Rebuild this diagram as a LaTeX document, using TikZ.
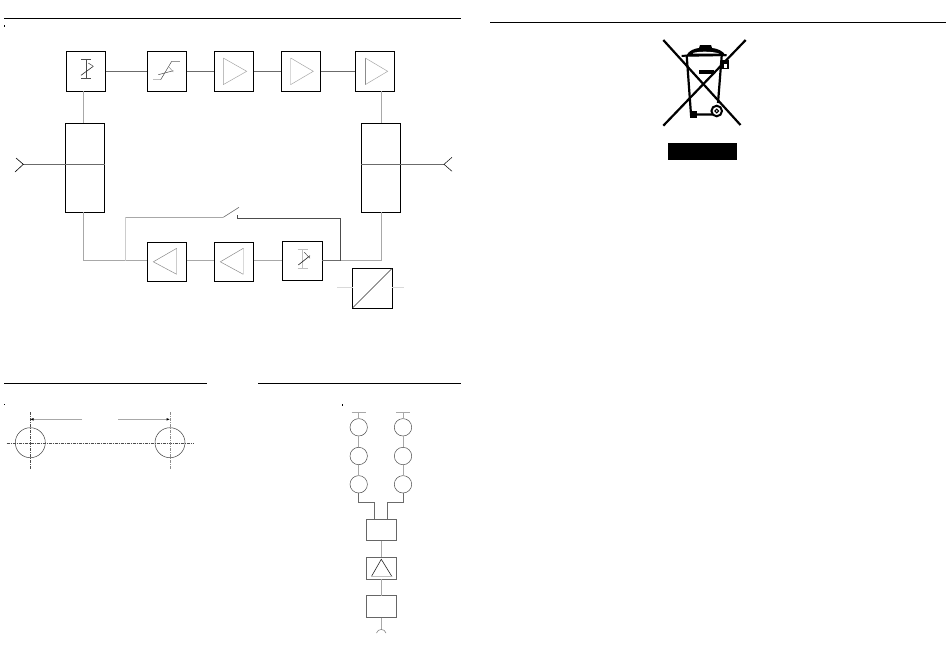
\documentclass[tikz,border=0pt]{standalone}
\definecolor{wire}{gray}{0.42}
\definecolor{lite}{gray}{0.66}
\tikzset{
  x=1pt,y=-1pt,
  blockbox/.style={draw=black,line width=0.75pt,fill=white,minimum width=39.4pt,minimum height=39.5pt,inner sep=0pt,outer sep=0pt},
  tallbox/.style={blockbox,minimum height=88.7pt},
  smallbox/.style={draw=black!60,line width=0.85pt,fill=white,minimum width=29.3pt,minimum height=21.7pt,inner sep=0pt,outer sep=0pt},
  roundel/.style={circle,draw=black!70,line width=0.5pt,fill=white,minimum size=17.4pt,inner sep=0pt,outer sep=0pt},
  bore/.style={circle,draw=black!75,line width=0.5pt,minimum size=30pt,inner sep=0pt,outer sep=0pt},
  wireline/.style={draw=wire,line width=0.7pt},
  liteline/.style={draw=lite,line width=0.8pt},
  rule/.style={draw=black,line width=0.7pt},
  tri/.style={draw=lite,line width=0.5pt},
  sym/.style={draw=black!70,line width=0.5pt},
  centre/.style={draw=black!70,line width=0.4pt,dash pattern=on 3pt off 1pt on 1pt off 1pt},
  speck/.style={fill=black,inner sep=0pt,minimum size=1.4pt,outer sep=0pt},
  binline/.style={draw=black,line width=2.2pt}
}
\begin{document}
\begin{tikzpicture}
\useasboundingbox (0,0) rectangle (950,654);
\fill[white] (0,0) rectangle (950,654);
% rules
\coordinate (r1a) at (4,18.3); \coordinate (r1b) at (461,18.3);
\coordinate (r2a) at (490,22.4); \coordinate (r2b) at (946,22.4);
\coordinate (r3a) at (4,383.4); \coordinate (r3b) at (206.7,383.4);
\coordinate (r4a) at (258,383.4); \coordinate (r4b) at (461,383.4);
\draw[rule] (r1a)--(r1b); \draw[rule] (r2a)--(r2b); \draw[rule] (r3a)--(r3b); \draw[rule] (r4a)--(r4b);
\node[speck] (d1) at (4.5,26) {};
\node[speck] (d2) at (4.5,404.5) {};
\node[speck] (d3) at (342.4,405) {};
% nodes of the loop
\coordinate (inL) at (23.3,164.3); \coordinate (outR) at (444,164.3);
\coordinate (jL) at (83.3,260.7); \coordinate (jR) at (381.7,260.7);
\coordinate (jS) at (125.7,260.7); \coordinate (jT) at (340.3,260.7);
\coordinate (swA) at (125.7,217.3); \coordinate (swB) at (223.3,217.3); \coordinate (swC) at (239,207.3);
\coordinate (swD) at (237.3,215); \coordinate (swE) at (237.3,218.3); \coordinate (swF) at (340.3,218.3);
\coordinate (stL) at (337.3,287.7); \coordinate (stR) at (404,287.7);
\node[blockbox] (a1) at (86,71.3) {};
\node[blockbox] (a2) at (167,71.3) {};
\node[blockbox] (a3) at (234,71.3) {};
\node[blockbox] (a4) at (301,71.3) {};
\node[blockbox] (a5) at (375,71.3) {};
\node[tallbox] (tl) at (85,167.7) {};
\node[tallbox] (tr) at (381,167.7) {};
\node[blockbox] (b1) at (167,261.8) {};
\node[blockbox] (b2) at (234,261.8) {};
\node[blockbox,minimum width=40pt] (b3) at (302.3,260.8) {};
\node[blockbox] (c1) at (372.2,288.3) {};
\draw[wireline] (a1.east)--(a2.west);
\draw[wireline] (a2.east)--(a3.west);
\draw[wireline] (a3.east)--(a4.west);
\draw[wireline] (a4.east)--(a5.west);
\draw[liteline] (a1.south -| jL)--(tl.north -| jL);
\draw[liteline,line width=1pt] (a5.south -| tr.north)--(tr.north);
\draw[wireline] (inL)--(tl.east |- inL);
\draw[wireline] (tr.west |- outR)--(outR);
\draw[draw=black,line width=0.6pt] (16,158)--(inL)--(15,172);
\draw[draw=black,line width=0.5pt] (452,157.3)--(outR)--(452,171.3);
% lower path
\draw[liteline] (tl.south -| jL)--(jL)--(b1.west |- jL);
\draw[liteline] (b1.east |- jL)--(b2.west |- jL);
\draw[liteline] (b2.east |- jL)--(b3.west |- jL);
\draw[wireline] (b3.east |- jL)--(jT);
\draw[liteline] (jT)--(jR)--(tr.south -| jR);
\draw[draw=black!20,line width=1pt] (jS)--(swA);
\draw[liteline,line width=0.6pt] (swA)--(swB);
\draw[wireline,line width=0.6pt] (swB)--(swC);
\draw[draw=black!70,line width=0.7pt] (swD)--(swE)--(swF)--(jT);
\draw[draw=black!15,line width=1pt] (stL)--(c1.west |- stL);
\draw[draw=black!15,line width=1pt] (c1.east |- stR)--(stR);
\draw[draw=black!80,line width=0.5pt] (c1.south west)--(c1.north east);
% triangles pointing right
\begin{scope}[shift={(a3.center)}]
  \draw[draw=black!25,line width=0.5pt] (-10.7,-13.3)--(-10.7,13.3);
  \draw[tri] (-10.7,-13.3)--(12.7,0)--(-10.7,13.3);
\end{scope}
\begin{scope}[shift={(a4.center)}]
  \draw[draw=black!15,line width=0.6pt] (-10.3,-13.3)--(-10.3,13.3);
  \draw[tri] (-10.3,-13.3)--(12.3,0)--(-10.3,13.3);
\end{scope}
\begin{scope}[shift={(a5.center)}]
  \draw[draw=black!45,line width=0.5pt] (-9.7,-13.3)--(-9.7,13.3);
  \draw[tri] (-9.7,-13.3)--(12.7,0)--(-9.7,13.3);
\end{scope}
% triangles pointing left
\begin{scope}[shift={(b1.center)}]
  \draw[draw=black!20,line width=0.8pt] (9.7,-13.5)--(9.7,12.5);
  \draw[draw=black!45,line width=0.5pt] (9.7,-13.5)--(-13.7,0)--(9.7,12.5);
\end{scope}
\begin{scope}[shift={(b2.center)}]
  \draw[draw=black!15,line width=0.9pt] (9.3,-13.5)--(9.3,12.5);
  \draw[draw=black!45,line width=0.5pt] (9.3,-13.5)--(-13.7,0)--(9.3,12.5);
\end{scope}
% attenuator symbols
\begin{scope}[shift={(a1.center)}]
  \draw[sym] (-5,-11.6)--(5,-11.6);
  \draw[sym] (-5,7)--(5,7);
  \draw[sym] (0,-11.6)--(0,7);
  \draw[draw=black!85,line width=0.6pt] (-5,4)--(7.3,-5);
  \draw[sym] (2.3,-8.3)--(7.3,-5);
\end{scope}
\begin{scope}[shift={(b3.center)}]
  \draw[draw=black!25,line width=0.8pt] (-4.6,-11.5)--(5.4,-11.5);
  \draw[draw=black!25,line width=0.8pt] (-4.6,7.5)--(5.4,7.5);
  \draw[draw=black!25,line width=0.8pt] (0.4,-11.5)--(0.4,7.5);
  \draw[draw=black!90,line width=0.6pt] (-4,4.2)--(7.7,-5.1);
  \draw[sym] (2,-8.5)--(7.7,-2.5);
\end{scope}
% limiter symbol
\begin{scope}[shift={(a2.center)}]
  \draw[draw=black!25,line width=1pt] (-13.7,8.4)--(-6.3,8.4);
  \draw[sym] (-6.3,8.4)--(4.7,-10);
  \draw[draw=black!40,line width=0.5pt] (4.7,-10)--(13,-10);
  \draw[sym] (-8.7,3.4)--(6.3,-0.6);
  \draw[draw=black!50,line width=0.4pt] (2.3,-4)--(6.3,0.7);
\end{scope}
% dimension drawing
\node[bore] (h1) at (30.3,442.7) {};
\node[bore] (h2) at (170,442.7) {};
\coordinate (cl) at (6.7,442.7); \coordinate (cr) at (194,442.7);
\draw[centre] (cl)--(cr);
\begin{scope}[shift={(h1.center)}]
  \draw[centre] (0,-30.7)--(0,27.3);
\end{scope}
\begin{scope}[shift={(h2.center)}]
  \draw[centre,draw=black!45] (0,-30.7)--(0,27.3);
\end{scope}
\coordinate (m1) at (82,419.3); \coordinate (m2) at (118,419.3);
\coordinate (e1) at (31,419.3); \coordinate (e2) at (169,419.3);
\draw[liteline] (m1)--(e1);
\draw[liteline] (m2)--(e2);
\fill[black] (30.5,419.3)--(33.5,418)--(33.5,420.6)--cycle;
\fill[black] (169.5,419.3)--(166.5,418)--(166.5,420.6)--cycle;
% block tree
\node[smallbox] (s1) at (381.3,529.9) {};
\node[smallbox] (s2) at (381.3,568.2) {};
\node[smallbox] (s3) at (381.3,606.7) {};
\node[roundel] (o1) at (358.7,427.3) {};
\node[roundel] (o2) at (358.7,456) {};
\node[roundel] (o3) at (358.7,484.3) {};
\node[roundel] (p1) at (403,427.3) {};
\node[roundel] (p2) at (403,456) {};
\node[roundel] (p3) at (403,484.3) {};
\coordinate (to) at (358.7,412); \coordinate (tp) at (403,412);
\coordinate (toa) at (351.7,412); \coordinate (tob) at (365.7,412);
\coordinate (tpa) at (396,412); \coordinate (tpb) at (410,412);
\draw[liteline] (to)--(o1.north); \draw[liteline] (toa)--(tob);
\draw[liteline] (tp)--(p1.north); \draw[liteline] (tpa)--(tpb);
\draw[liteline] (o1.south)--(o2.north);
\draw[liteline] (o2.south)--(o3.north);
\draw[liteline] (p1.south)--(p2.north);
\draw[liteline] (p2.south)--(p3.north);
\coordinate (ko) at (358.7,502.3); \coordinate (kp) at (403,502.3);
\coordinate (kl) at (374.3,502.3); \coordinate (kr) at (387.3,502.3);
\draw[wireline] (o3.south)--(ko)--(kl)--(kl |- s1.north);
\draw[wireline] (p3.south)--(kp)--(kr)--(kr |- s1.north);
\draw[liteline] (s1.south)--(s2.north);
\draw[liteline] (s2.south)--(s3.north);
\coordinate (tipT) at (381.3,629.5);
\draw[liteline] (s3.south)--(tipT);
\draw[draw=black!55,line width=0.5pt] (376.5,633) .. controls (377.5,630.5) and (379,629.5) .. (tipT) .. controls (383.6,629.5) and (385,630.5) .. (386,633);
\begin{scope}[shift={(s2.center)}]
  \draw[draw=black!85,line width=0.6pt] (-10,8.5)--(0,-8.9)--(10.7,8.5);
  \draw[draw=black!25,line width=0.8pt] (-10,8.5)--(10.7,8.5);
\end{scope}
% WEEE bin
\draw[binline] (663.3,40)--(740.5,125);
\draw[binline] (745.7,40)--(663.3,125.7);
\fill[black] (686,56) .. controls (689,50) and (695,48.5) .. (699,48) -- (700,45) -- (711,45) -- (712,48) .. controls (717,48.5) and (723,50.5) .. (726,56) -- cycle;
\fill[white] (693,53) .. controls (699,51.2) and (712,51.2) .. (719,53.5) -- (693,53.5) -- cycle;
\draw[black,line width=2pt] (681.7,55.8)--(726.7,55);
\draw[binline] (686.7,55.7)--(691,114.5)--(712,114.5);
\draw[binline] (721.7,55.7)--(718,103);
\fill[black] (690,111) rectangle (696.5,118);
\fill[black] (699,70) rectangle (714,73.8);
\fill[black] (721.5,60) rectangle (728.5,69);
\fill[white] (723.5,63.5) rectangle (726.8,67.5);
\draw[black,line width=2pt,fill=white] (716.7,111) circle (5.3);
\draw[black,line width=1pt] (716.7,111) circle (1.9);
\node[fill=black,minimum width=69pt,minimum height=17pt,inner sep=0pt,outer sep=0pt] (bar) at (702.2,151.7) {};
\end{tikzpicture}
\end{document}
